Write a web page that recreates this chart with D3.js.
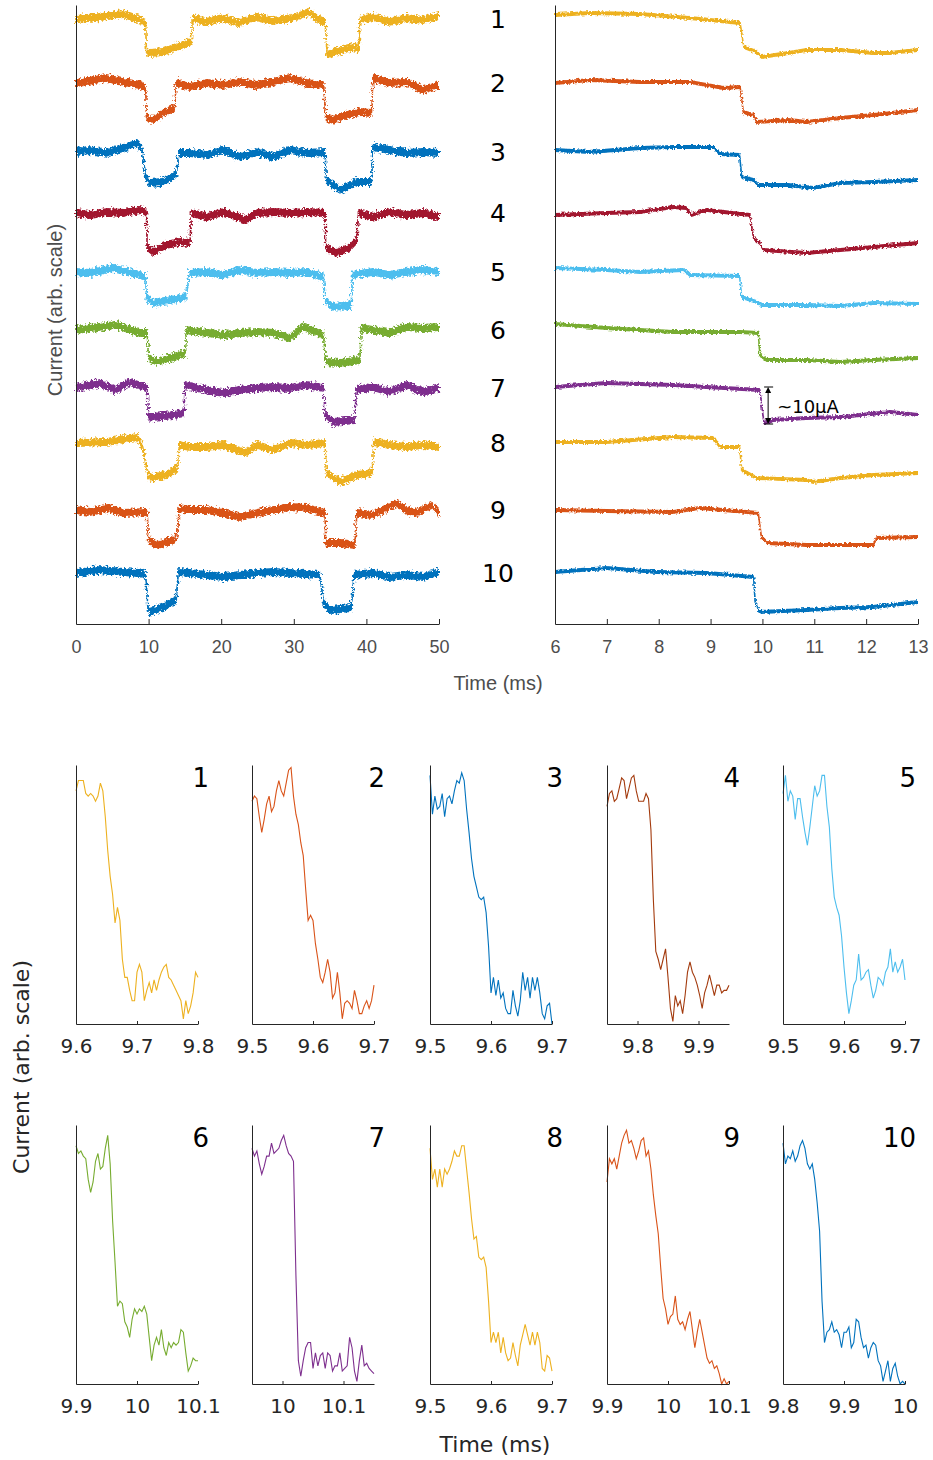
<!DOCTYPE html>
<html>
<head>
<meta charset="utf-8">
<script src="https://cdn.jsdelivr.net/npm/d3@7/dist/d3.min.js"></script>
<style>
  body { margin: 0; background: #fff; }
  svg { display: block; }
</style>
</head>
<body>
<div id="chart"></div>
<script>
// ---- data -------------------------------------------------------------
var traceNames = ["1", "2", "3", "4", "5", "6", "7", "8", "9", "10"];
var fullTicks = [0, 10, 20, 30, 40, 50];
var zoomTicks = [6, 7, 8, 9, 10, 11, 12, 13];

// full 50 ms records, [time ms, current arb]
var fullTraces = [
  [[0,605],[3.3,607],[6.5,610],[8.8,604],[9.6,601],[9.7,572],[10.1,571],[12,572],[13.8,577],[15.9,582],[16,606],[17.9,602],[20.2,606],[22.5,601],[24.8,607],[27.1,603],[29.8,606],[32.1,612],[33,606],[34.3,602],[34.6,569],[35.5,572],[38.2,577],[39,574],[39.1,604],[40.9,607],[43.2,602],[45.5,606],[47.8,604],[50,608]],
  [[0,541],[4.2,546],[6.5,542],[8.8,539],[9.6,536],[9.7,506],[10.6,504],[12,511],[13.6,516],[13.8,541],[15.7,537],[18,541],[20.3,539],[22.6,542],[24.9,539],[27.2,542],[29.5,546],[31.8,541],[34.1,539],[34.4,507],[35.4,504],[37.3,509],[39.1,512],[40.7,511],[40.9,546],[43.2,541],[45.5,542],[47.8,534],[50,539]],
  [[0,472],[1.9,474],[4.2,471],[6.5,476],[8.6,481],[9.1,474],[9.6,447],[10.1,441],[12,442],[13.8,449],[14.2,471],[15.7,471],[18,469],[20.3,474],[22.6,467],[24.9,472],[27.2,467],[29.5,474],[31.8,471],[34.3,472],[34.5,444],[36.4,434],[38.7,442],[40.7,442],[40.9,477],[43.2,474],[45.5,471],[47.8,472],[50,471]],
  [[0,411],[1.9,409],[4.2,412],[6.5,411],[8.8,414],[9.7,412],[9.8,377],[10.6,372],[12.4,379],[14.2,382],[15.7,381],[15.9,411],[18,407],[20.3,412],[23.4,404],[24.9,411],[27.2,412],[29.5,411],[31.8,412],[34.3,411],[34.4,377],[35.9,371],[37.8,377],[38.7,384],[38.9,411],[40.9,407],[43.2,412],[45.5,409],[47.8,411],[50,407]],
  [[0,352],[1.9,351],[5.1,356],[8.8,349],[9.6,347],[9.7,327],[10.6,321],[12.9,324],[15.2,327],[15.6,351],[18,352],[20.3,349],[22.6,354],[24.9,351],[27.2,352],[29.5,351],[31.8,352],[34.1,347],[34.3,324],[35.4,317],[37.9,319],[38.1,349],[40.9,352],[43.2,349],[45.5,352],[47.8,354],[50,352]],
  [[0,294],[1.9,296],[5.5,299],[8.8,291],[9.8,291],[10,266],[11.1,262],[13.4,267],[15.1,271],[15.2,294],[18,291],[20.3,289],[22.6,291],[24.9,292],[27.2,291],[29.5,286],[31.2,297],[34.1,289],[34.4,262],[36.4,261],[39.1,264],[39.3,296],[40.9,294],[43.2,291],[45.5,297],[47.8,296],[50,297]],
  [[0,236],[3.2,241],[5.5,234],[7.4,242],[9.8,236],[10,206],[10.6,207],[13.4,209],[14.9,211],[15,239],[18,234],[20.3,231],[22.6,234],[24.9,236],[27.2,237],[29.5,236],[31.8,239],[34.1,236],[34.3,209],[35.4,202],[38.4,204],[38.6,234],[40.9,237],[43.2,232],[45.5,239],[47.8,232],[50,236]],
  [[0,181],[4.2,182],[8.4,187],[8.8,182],[9.1,178],[9.8,154],[10.1,146],[12.4,149],[14,156],[14.2,179],[15.7,177],[18,177],[20.3,179],[23.4,171],[24.9,179],[27.2,174],[29.5,181],[31.8,179],[34.3,181],[34.5,151],[36.4,142],[38.7,149],[40.8,151],[41,182],[43.2,179],[45.5,177],[47.8,179],[50,177]],
  [[0,114],[1.9,112],[4.2,116],[6.5,111],[9.8,112],[10,84],[11.1,79],[13.4,84],[14,91],[14.2,116],[15.7,114],[18,114],[20.3,111],[22.6,107],[24.9,111],[27.2,114],[29.5,117],[31.8,116],[34.3,111],[34.4,81],[36.4,81],[38.4,79],[38.7,111],[40.9,109],[44.1,121],[45.5,114],[46.9,111],[49,119],[50,111]],
  [[0,51],[3.2,54],[6.5,52],[8.8,51],[9.6,49],[9.9,17],[10.1,12],[12,17],[13.8,24],[14.1,52],[15.7,51],[18,49],[20.3,47],[22.6,49],[24.9,51],[27.2,52],[29.5,51],[33.6,49],[34.1,21],[35,14],[37.9,16],[38.3,49],[40.9,51],[43.2,47],[45.5,49],[47.8,47],[50,52]]
];

// 6-13 ms around the first falling edge, [time ms, current arb]
var zoomTraces = [
  [[6,609],[6.67,611],[7.64,610],[8.6,606],[9.57,601],[9.64,577],[9.89,572],[9.98,567],[10.5,571],[10.85,574],[11.5,574],[12.14,571],[12.45,571],[13,574]],
  [[6,541],[6.67,544],[7.64,542],[8.6,542],[9.25,536],[9.57,537],[9.63,512],[9.83,509],[9.89,502],[10.5,504],[10.85,502],[11.5,506],[12.14,509],[13,514]],
  [[6,474],[6.67,472],[7.64,476],[8.28,477],[9.05,477],[9.18,470],[9.56,469],[9.6,447],[9.83,444],[9.92,439],[10.5,439],[10.98,436],[11.5,441],[12.14,442],[13,444]],
  [[6,409],[6.99,411],[7.64,412],[8.28,417],[8.53,416],[8.63,409],[8.92,414],[9.76,409],[9.83,386],[9.95,381],[10.02,374],[10.85,371],[11.5,374],[12.14,377],[13,381]],
  [[6,356],[6.99,354],[7.64,352],[8.47,354],[8.6,349],[9.56,348],[9.6,327],[9.89,322],[9.98,319],[10.85,319],[11.5,318],[12.14,321],[13,320]],
  [[6,300],[6.99,296],[8.28,292],[9.57,292],[9.92,291],[9.95,269],[10.08,264],[10.85,264],[11.5,262],[12.14,264],[13,266]],
  [[6,237],[6.99,241],[8.28,239],[8.92,237],[9.95,234],[10.03,201],[10.21,204],[10.85,206],[11.5,207],[12.47,212],[13,209]],
  [[6,182],[6.99,182],[8.28,187],[9.05,186],[9.18,177],[9.56,177],[9.6,154],[9.89,146],[10.85,144],[10.98,142],[11.5,146],[12.14,149],[13,151]],
  [[6,114],[6.99,113],[8.28,112],[8.79,116],[9.92,111],[9.98,87],[10.1,81],[10.85,79],[12.14,79],[12.2,86],[13,87]],
  [[6,52],[6.99,56],[7.96,52],[8.92,51],[9.83,47],[9.86,22],[9.95,12],[10.85,14],[11.5,16],[12.14,17],[13,22]]
];

// step size annotation on trace 7
var stepMark = { t: 10.11, from: 237, to: 200, label: "~10\u03bcA" };

// 0.2 ms windows around each edge, sampled every 0.004 ms (arb 0-100)
var edgeStart = [9.6, 9.5, 9.5, 9.75, 9.5, 9.9, 9.95, 9.5, 9.9, 9.8];
var edgeStep = 0.004;
var edgeTicks = [
  [9.6, 9.7, 9.8], [9.5, 9.6, 9.7], [9.5, 9.6, 9.7], [9.8, 9.9], [9.5, 9.6, 9.7],
  [9.9, 10, 10.1], [10, 10.1], [9.5, 9.6, 9.7], [9.9, 10, 10.1], [9.8, 9.9, 10]
];
var edgeValues = [
  [90,94,94,94,89,88,89,88,86,88,93,90,80,67,57,50,39,45,40,25,18,18,13,9,9,20,23,20,9,13,16,12,17,13,17,20,22,23,18,17,15,13,11,9,2,9,4,7,12,20,18],
  [86,88,87,80,74,79,85,88,82,84,90,94,90,88,93,98,99,88,81,77,70,65,52,40,42,40,31,25,18,16,20,25,20,10,12,20,12,2,8,9,8,6,13,9,4,4,7,9,6,9,15],
  [96,81,88,83,84,89,80,87,88,85,90,94,93,97,94,83,74,64,57,53,49,48,49,43,30,12,18,11,17,10,12,6,4,4,13,7,3,9,20,13,18,10,18,13,18,12,4,2,7,8,0],
  [84,89,90,86,87,91,95,94,87,91,95,96,90,86,86,86,89,87,75,48,28,25,21,25,29,18,6,1,11,7,9,4,11,20,24,20,18,15,11,6,12,15,19,15,11,15,15,12,13,13,15],
  [89,96,86,90,88,79,87,87,80,74,69,76,84,92,88,90,96,96,84,76,60,49,45,42,34,22,12,4,9,15,17,27,17,18,20,21,15,10,13,18,17,15,20,22,29,20,24,20,22,25,17],
  [92,89,90,88,87,79,74,78,86,89,83,84,91,96,85,63,47,30,32,31,24,22,18,25,29,27,29,28,30,27,18,9,15,18,15,21,14,11,16,14,16,15,16,21,20,12,5,7,10,9,9],
  [91,88,90,85,81,84,88,88,93,89,90,91,94,96,92,89,88,86,42,9,3,9,14,16,16,6,12,7,11,12,6,12,11,5,7,7,12,5,6,7,18,14,5,1,9,15,7,8,6,5,4],
  [91,79,83,76,83,76,83,81,83,86,90,88,88,92,92,83,74,64,56,57,49,48,49,45,32,16,20,16,20,12,18,12,9,10,16,11,7,15,19,23,19,15,20,15,20,16,6,5,11,10,5],
  [78,87,85,87,83,88,93,96,98,93,94,91,87,90,94,95,88,90,83,73,65,58,45,33,29,23,26,27,34,25,23,24,21,25,28,21,14,20,25,20,15,10,8,9,6,7,4,0,2,0,1],
  [93,85,88,87,90,86,88,92,94,91,85,83,85,79,70,59,32,16,20,21,24,20,21,19,14,20,20,22,14,16,25,24,18,14,15,10,14,16,15,9,7,1,5,9,1,6,8,3,0,1,0]
];

// ---- style ------------------------------------------------------------
var colors = ["#EDB120", "#D95319", "#0072BD", "#A2142F", "#4DBEEE",
              "#77AC30", "#7E2F8E", "#EDB120", "#D95319", "#0072BD"];
var edgeColors = colors.slice();
edgeColors[3] = "#A33A0D";

var W = 933, H = 1460;
var svg = d3.select("#chart").append("svg").attr("width", W).attr("height", H);

var defs = svg.append("defs");
function fuzz(id, freq, amount) {
  var f = defs.append("filter").attr("id", id)
    .attr("filterUnits", "userSpaceOnUse")
    .attr("x", 0).attr("y", 0).attr("width", W).attr("height", 640);
  f.append("feTurbulence").attr("type", "fractalNoise")
    .attr("baseFrequency", freq).attr("numOctaves", 2).attr("seed", 7).attr("result", "n");
  f.append("feDisplacementMap").attr("in", "SourceGraphic").attr("in2", "n")
    .attr("scale", amount).attr("xChannelSelector", "R").attr("yChannelSelector", "G");
}
fuzz("fuzzL", "0.45 0.45", 7);
fuzz("fuzzR", "0.45 0.45", 4);

var topY = d3.scaleLinear().domain([0, 619]).range([624, 5]);
var xFull = d3.scaleLinear().domain([0, 50]).range([76, 439]);
var xZoom = d3.scaleLinear().domain([6, 13]).range([555, 918]);

var axisGrey = "#4d4d4d";

function traceBand(g, x, traces, half, filterId) {
  var grp = g.append("g").attr("filter", "url(#" + filterId + ")");
  var band = d3.area().x(function (d) { return x(d[0]); })
    .y0(function (d) { return topY(d[1] - half); })
    .y1(function (d) { return topY(d[1] + half); });
  var line = d3.line().x(function (d) { return x(d[0]); })
    .y(function (d) { return topY(d[1]); });
  traces.forEach(function (tr, i) {
    grp.append("path").datum(tr).attr("d", band).attr("fill", colors[i]);
    grp.append("path").datum(tr).attr("d", line)
      .attr("fill", "none").attr("stroke", colors[i]).attr("stroke-width", 1.6);
  });
}

function topAxes(x, ticks) {
  var ax = svg.append("g").attr("transform", "translate(0,624)")
    .call(d3.axisBottom(x).tickValues(ticks).tickFormat(d3.format("d"))
      .tickSizeInner(-5).tickSizeOuter(0).tickPadding(16));
  ax.select(".domain").attr("stroke", "#262626");
  ax.selectAll(".tick line").attr("stroke", "#262626");
  ax.selectAll("text").attr("fill", axisGrey)
    .style("font-family", "'Liberation Sans', Arial, sans-serif").style("font-size", "18px");
  var ay = svg.append("g").attr("transform", "translate(" + x.range()[0] + ",0)")
    .call(d3.axisLeft(topY).tickValues([]).tickSizeOuter(0));
  ay.select(".domain").attr("stroke", "#262626");
}

traceBand(svg, xFull, fullTraces, 3.9, "fuzzL");
traceBand(svg, xZoom, zoomTraces, 1.9, "fuzzR");
topAxes(xFull, fullTicks);
topAxes(xZoom, zoomTicks);

// trace numbers between the two panels
svg.append("g").selectAll("text").data(traceNames).enter().append("text")
  .attr("x", 498)
  .attr("y", function (d, i) { return topY(fullTraces[i][0][1]) + 9; })
  .attr("text-anchor", "middle")
  .style("font-family", "'DejaVu Sans', sans-serif").style("font-size", "25px")
  .attr("fill", "#000")
  .text(function (d) { return d; });

// step size arrow
var ann = svg.append("g");
var ax0 = xZoom(stepMark.t), ay0 = topY(stepMark.from), ay1 = topY(stepMark.to);
ann.append("line").attr("x1", ax0).attr("x2", ax0).attr("y1", ay0 + 4).attr("y2", ay1 - 4)
  .attr("stroke", "#000").attr("stroke-width", 1);
ann.append("line").attr("x1", ax0 - 4).attr("x2", ax0 + 5).attr("y1", ay0).attr("y2", ay0)
  .attr("stroke", "#000").attr("stroke-width", 1);
ann.append("line").attr("x1", ax0 - 4).attr("x2", ax0 + 5).attr("y1", ay1).attr("y2", ay1)
  .attr("stroke", "#000").attr("stroke-width", 1);
ann.append("path").attr("d", "M" + ax0 + "," + ay0 + "l-3,6h6z").attr("fill", "#000");
ann.append("path").attr("d", "M" + ax0 + "," + ay1 + "l-3,-6h6z").attr("fill", "#000");
ann.append("text").attr("x", ax0 + 9).attr("y", (ay0 + ay1) / 2 + 7)
  .style("font-family", "'DejaVu Sans', sans-serif").style("font-size", "18px")
  .attr("fill", "#000").text(stepMark.label);

// top axis titles
svg.append("text").attr("x", 498).attr("y", 690).attr("text-anchor", "middle")
  .style("font-family", "'Liberation Sans', Arial, sans-serif").style("font-size", "20px")
  .attr("fill", axisGrey).text("Time (ms)");
svg.append("text").attr("transform", "translate(62,310) rotate(-90)").attr("text-anchor", "middle")
  .style("font-family", "'Liberation Sans', Arial, sans-serif").style("font-size", "20px")
  .attr("fill", axisGrey).text("Current (arb. scale)");

// ---- small multiples of the edges ---------------------------------------
var colX = [76, 252, 430, 607, 783], panelW = 122;
var rowTop = [765, 1125], panelH = 259;
var fmt = function (d) { return String(+d.toFixed(2)); };
var dark = "#262626";

edgeValues.forEach(function (vals, i) {
  var left = colX[i % 5], top = rowTop[Math.floor(i / 5)];
  var x = d3.scaleLinear().domain([edgeStart[i], edgeStart[i] + edgeStep * (vals.length - 1)])
    .range([left, left + panelW]);
  var y = d3.scaleLinear().domain([0, 100]).range([top + panelH, top]);
  var g = svg.append("g");

  g.append("path").datum(vals)
    .attr("d", d3.line().x(function (d, j) { return x(edgeStart[i] + edgeStep * j); })
      .y(function (d) { return y(d); }))
    .attr("fill", "none").attr("stroke", edgeColors[i]).attr("stroke-width", 1.1);

  var gx = g.append("g").attr("transform", "translate(0," + (top + panelH) + ")")
    .call(d3.axisBottom(x).tickValues(edgeTicks[i]).tickFormat(fmt)
      .tickSizeInner(-3).tickSizeOuter(0).tickPadding(15));
  gx.select(".domain").attr("stroke", dark);
  gx.selectAll(".tick line").attr("stroke", dark);
  gx.selectAll("text").attr("fill", dark)
    .style("font-family", "'DejaVu Sans', sans-serif").style("font-size", "20px");

  var gy = g.append("g").attr("transform", "translate(" + left + ",0)")
    .call(d3.axisLeft(y).tickValues([]).tickSizeOuter(0));
  gy.select(".domain").attr("stroke", dark);

  g.append("text").attr("x", left + panelW + 11).attr("y", top + 22)
    .attr("text-anchor", "end")
    .style("font-family", "'DejaVu Sans', sans-serif").style("font-size", "26px")
    .attr("fill", "#000").text(traceNames[i]);
});

svg.append("text").attr("x", 495).attr("y", 1452).attr("text-anchor", "middle")
  .style("font-family", "'DejaVu Sans', sans-serif").style("font-size", "22px")
  .attr("fill", dark).text("Time (ms)");
svg.append("text").attr("transform", "translate(29,1067) rotate(-90)").attr("text-anchor", "middle")
  .style("font-family", "'DejaVu Sans', sans-serif").style("font-size", "22px")
  .attr("fill", dark).text("Current (arb. scale)");
</script>
</body>
</html>
